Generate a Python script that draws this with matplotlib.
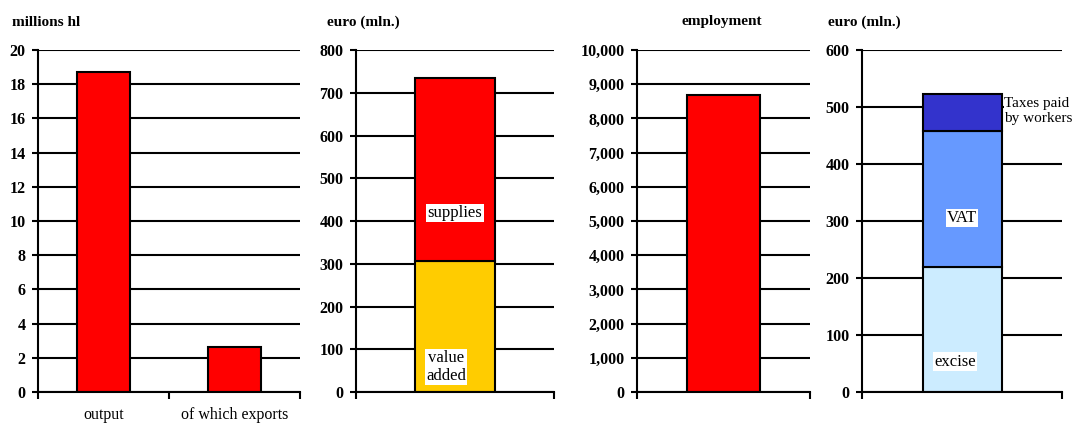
import matplotlib.pyplot as plt
from matplotlib.ticker import FuncFormatter, MultipleLocator

plt.rcParams['font.family'] = ['Liberation Serif', 'DejaVu Serif']

# panel 1: beer volume
vol_cats = ['output', 'of which exports']
vol_vals = [18.7, 2.65]

# panel 2: output value split
value_added = 307
supplies = 428          # stacked on value added, top ~735

# panel 3: employment
employment = 8680

# panel 4: taxes
excise = 220
vat = 238               # top ~458
workers_tax = 65        # top ~523

fig = plt.figure(figsize=(10.74, 4.23), dpi=100)

bot = 31 / 423
hgt = 342 / 423
ax1 = fig.add_axes([38 / 1074, bot, 262 / 1074, hgt])
ax2 = fig.add_axes([356 / 1074, bot, 198 / 1074, hgt])
ax3 = fig.add_axes([637 / 1074, bot, 173 / 1074, hgt])
ax4 = fig.add_axes([862 / 1074, bot, 200 / 1074, hgt])


def style(ax, ymax, step, ncat, fmt=None):
    ax.set_ylim(0, ymax)
    ax.set_xlim(-0.5, ncat - 0.5)
    ax.yaxis.set_major_locator(MultipleLocator(step))
    if fmt:
        ax.yaxis.set_major_formatter(FuncFormatter(fmt))
    ax.grid(axis='y', color='black', lw=1.5)
    ax.set_axisbelow(True)
    for s in ['top', 'right']:
        ax.spines[s].set_visible(False)
    ax.spines['left'].set_linewidth(1.5)
    ax.spines['bottom'].set_linewidth(1.5)
    ax.tick_params(axis='y', length=4, width=1.5, pad=5, labelsize=11.5)
    for t in ax.get_yticklabels():
        t.set_fontweight('bold')
    # category boundary ticks
    ax.set_xticks([i - 0.5 for i in range(ncat + 1)], minor=True)
    ax.tick_params(axis='x', which='minor', length=5, width=1.5, direction='out')
    ax.tick_params(axis='x', which='major', length=0, pad=11, labelsize=11.5)


box = dict(facecolor='white', edgecolor='none', pad=1)

style(ax1, 20, 2, 2)
ax1.bar(range(2), vol_vals, width=0.41, color='#FF0000', edgecolor='black', lw=1.5)
ax1.set_xticks(range(2))
ax1.set_xticklabels(vol_cats)

style(ax2, 800, 100, 1)
ax2.bar([0], [value_added], width=0.40, color='#FFCC00', edgecolor='black', lw=1.5)
ax2.bar([0], [supplies], bottom=[value_added], width=0.40, color='#FF0000', edgecolor='black', lw=1.5)
ax2.set_xticks([])
ax2.text(0, 419, 'supplies', ha='center', va='center', fontsize=12, bbox=box)
ax2.text(-0.045, 58, 'value\nadded', ha='center', va='center', fontsize=12, linespacing=1.15, bbox=box)

style(ax3, 10000, 1000, 1, lambda v, p: f'{int(v):,}')
ax3.bar([0], [employment], width=0.42, color='#FF0000', edgecolor='black', lw=1.5)
ax3.set_xticks([])

style(ax4, 600, 100, 1)
ax4.bar([0], [excise], width=0.395, color='#CCECFF', edgecolor='black', lw=1.5)
ax4.bar([0], [vat], bottom=[excise], width=0.395, color='#6699FF', edgecolor='black', lw=1.5)
ax4.bar([0], [workers_tax], bottom=[excise + vat], width=0.395, color='#3333CC', edgecolor='black', lw=1.5)
ax4.set_xticks([])
ax4.text(0, 305, 'VAT', ha='center', va='center', fontsize=12, bbox=box)
ax4.text(-0.035, 53, 'excise', ha='center', va='center', fontsize=12, bbox=box)
ax4.text(0.21, 493, 'Taxes paid\nby workers', ha='left', va='center',
         fontsize=11, linespacing=1.15, bbox=dict(facecolor='white', edgecolor='none', pad=0))

ty = 1 - 22 / 423
fig.text(12 / 1074, ty, 'millions hl', ha='left', va='center', fontsize=11, fontweight='bold')
fig.text(327 / 1074, ty, 'euro (mln.)', ha='left', va='center', fontsize=11, fontweight='bold')
fig.text(722 / 1074, ty, 'employment', ha='center', va='center', fontsize=11, fontweight='bold')
fig.text(828 / 1074, ty, 'euro (mln.)', ha='left', va='center', fontsize=11, fontweight='bold')

fig.savefig('out.png', dpi=100)
